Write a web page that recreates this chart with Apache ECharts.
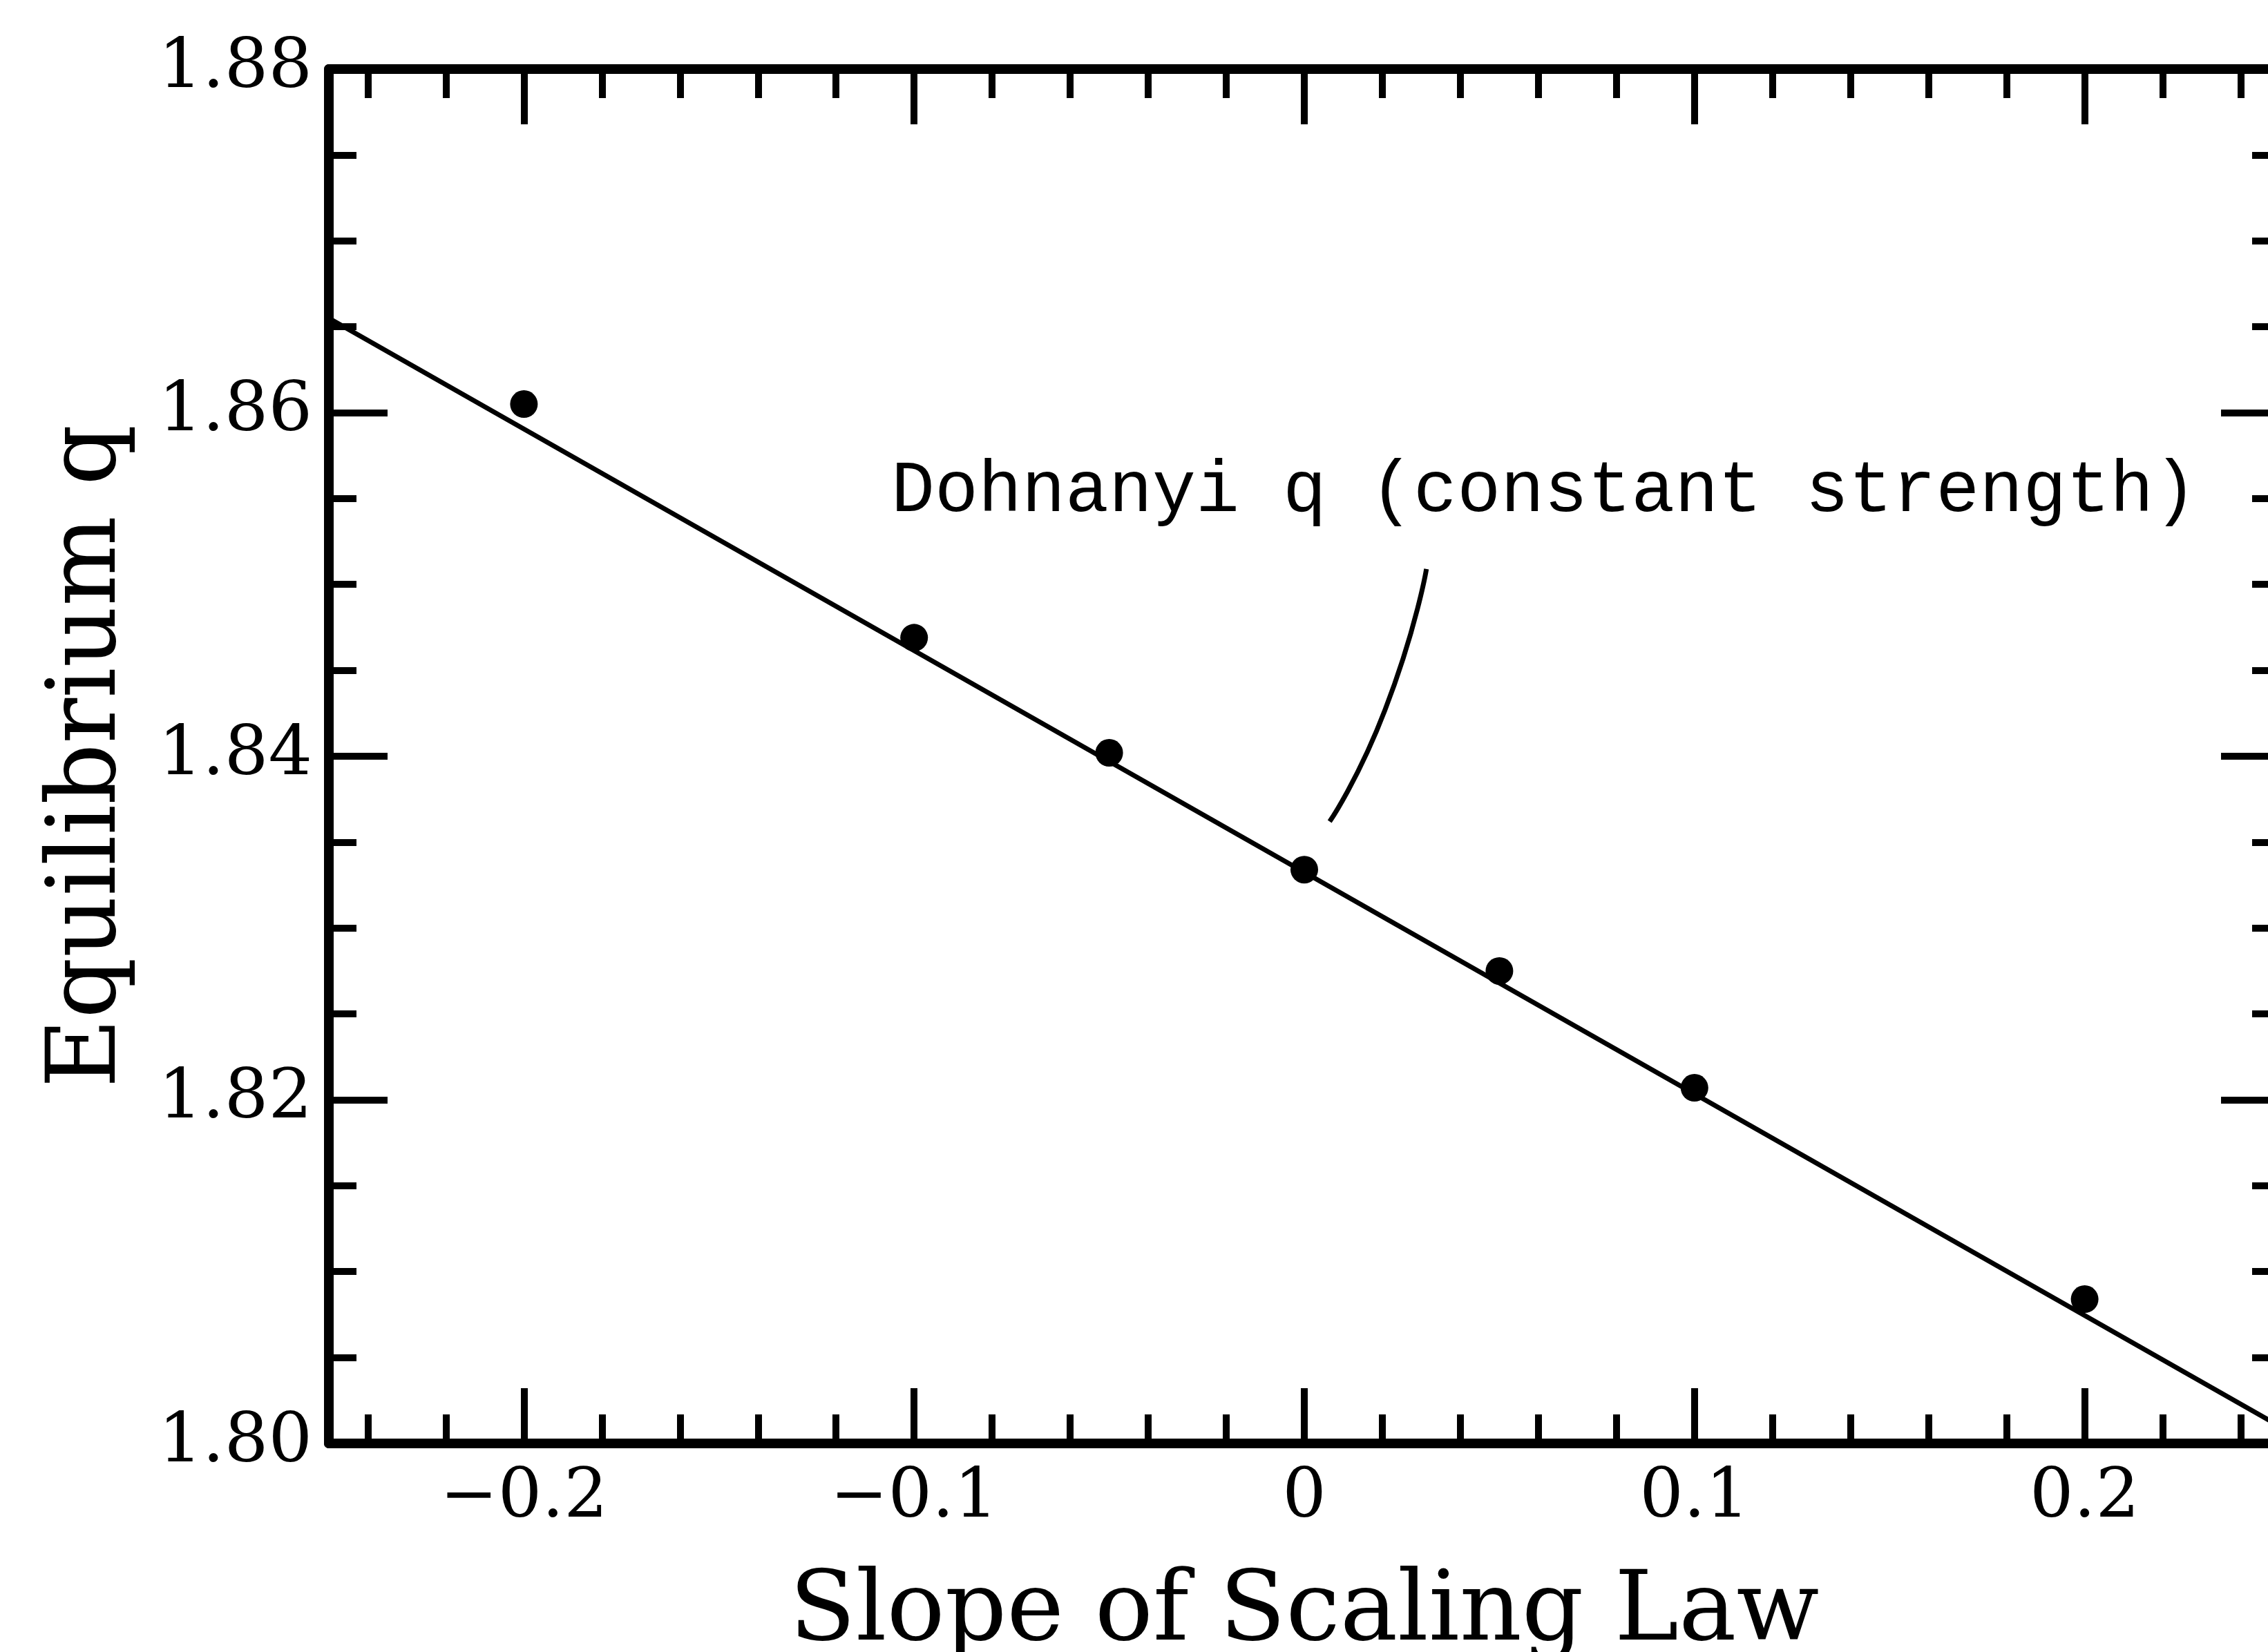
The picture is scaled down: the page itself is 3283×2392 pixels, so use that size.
<!DOCTYPE html>
<html>
<head>
<meta charset="utf-8">
<script src="https://cdn.jsdelivr.net/npm/echarts@6/dist/echarts.min.js"></script>
<style>
  html, body { margin: 0; padding: 0; background: #fff; }
  #chart { width: 3283px; height: 2392px; }
</style>
</head>
<body>
<div id="chart"></div>
<script>
// measured points
const slopeValues = [-0.2, -0.1, -0.05, 0, 0.05, 0.1, 0.2];
const qValues = [1.8605, 1.8469, 1.8402, 1.8334, 1.8275, 1.8207, 1.8084];

// straight fit line through the points
const fitSlope = [-0.25, 0.25];
const fitQ = [1.8655, 1.8010];

// pointer from the label down to the line
const arrowSlope = [0.0313, 0.0207, 0.0065];
const arrowQ = [1.8509, 1.8427, 1.8362];

const xMajorTicks = [-0.2, -0.1, 0, 0.1, 0.2];
const xMinorTicks = [-0.24, -0.22, -0.18, -0.16, -0.14, -0.12, -0.08, -0.06, -0.04, -0.02,
  0.02, 0.04, 0.06, 0.08, 0.12, 0.14, 0.16, 0.18, 0.22, 0.24];
const yMajorTicks = [1.80, 1.82, 1.84, 1.86, 1.88];
const yMinorTicks = [1.805, 1.81, 1.815, 1.825, 1.83, 1.835, 1.845, 1.85, 1.855, 1.865, 1.87, 1.875];

const labelText = 'Dohnanyi q (constant strength)';
const xTitle = 'Slope of Scaling Law';
const yTitle = 'Equilibrium q';

const serif = 'DejaVu Serif';
const ink = '#000';

function fmtX(v) {
  if (Math.abs(v) < 1e-9) return '0';
  return (v < 0 ? '\u2212' : '') + Math.abs(v).toFixed(1);
}

function xAxis(position, ticks, len, withLabel, withLine) {
  return {
    type: 'value', position: position, min: -0.25, max: 0.25,
    axisLine: { show: withLine, onZero: false, lineStyle: { color: ink, width: 14 } },
    axisTick: { show: true, inside: true, length: len, customValues: ticks,
      lineStyle: { color: ink, width: 10 } },
    axisLabel: { show: withLabel, customValues: ticks, margin: 30, formatter: fmtX,
      fontFamily: serif, fontSize: 100, color: ink },
    splitLine: { show: false }
  };
}

function yAxis(position, ticks, len, withLabel, withLine) {
  return {
    type: 'value', position: position, min: 1.80, max: 1.88,
    axisLine: { show: withLine, onZero: false, lineStyle: { color: ink, width: 14 } },
    axisTick: { show: true, inside: true, length: len, customValues: ticks,
      lineStyle: { color: ink, width: 10 } },
    axisLabel: { show: withLabel, customValues: ticks, margin: 24,
      formatter: v => v.toFixed(2),
      fontFamily: serif, fontSize: 100, color: ink },
    splitLine: { show: false }
  };
}

const xAxes = [
  xAxis('bottom', xMajorTicks, 80, true, true),
  xAxis('bottom', xMinorTicks, 42, false, false),
  xAxis('top', xMajorTicks, 80, false, true),
  xAxis('top', xMinorTicks, 42, false, false)
];
Object.assign(xAxes[0], {
  name: xTitle, nameLocation: 'middle', nameGap: 178,
  nameTextStyle: { fontFamily: serif, fontSize: 140, color: ink }
});

const yAxes = [
  yAxis('left', yMajorTicks, 85, true, true),
  yAxis('left', yMinorTicks, 40, false, false),
  yAxis('right', yMajorTicks, 85, false, true),
  yAxis('right', yMinorTicks, 40, false, false)
];
Object.assign(yAxes[0], {
  name: yTitle, nameLocation: 'middle', nameGap: 277,
  nameTextStyle: { fontFamily: serif, fontSize: 138, color: ink }
});

const chart = echarts.init(document.getElementById('chart'), null, { renderer: 'canvas' });

chart.setOption({
  animation: false,
  backgroundColor: '#fff',
  grid: { left: 476, top: 100, width: 2824, height: 1990, containLabel: false,
    outerBoundsMode: 'none' },
  xAxis: xAxes,
  yAxis: yAxes,
  graphic: [{
    type: 'text', left: 1290, top: 660, silent: true,
    style: { text: labelText, fill: ink, font: '105px "Liberation Mono", monospace' }
  }],
  series: [
    {
      type: 'line', name: 'fit', silent: true, showSymbol: false, clip: false,
      data: fitSlope.map((x, i) => [x, fitQ[i]]),
      lineStyle: { color: ink, width: 7 }
    },
    {
      type: 'scatter', name: 'points', silent: true, symbol: 'circle', symbolSize: 40,
      data: slopeValues.map((x, i) => [x, qValues[i]]),
      itemStyle: { color: ink, opacity: 1 }
    },
    {
      type: 'line', name: 'pointer', silent: true, showSymbol: false, smooth: 0.6,
      data: arrowSlope.map((x, i) => [x, arrowQ[i]]),
      lineStyle: { color: ink, width: 7 }
    }
  ]
});
</script>
</body>
</html>
